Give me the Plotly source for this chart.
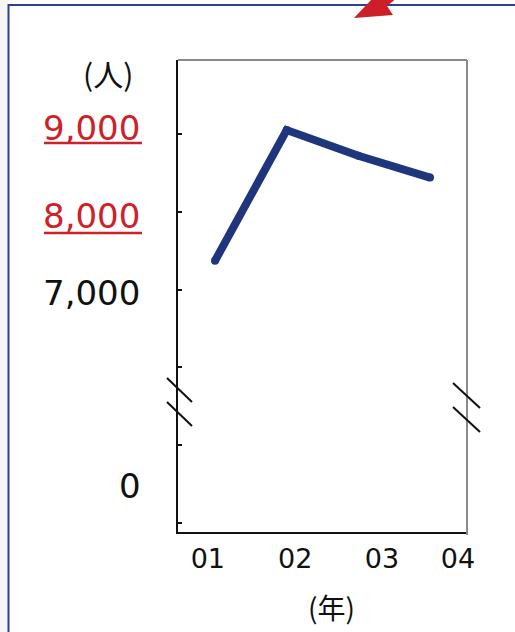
import plotly.graph_objects as go

# Visitors per year (people), drawn on a broken y axis
years = ["01", "02", "03", "04"]
point_x = [1, 2, 3, 4]
visitors = [7370, 9050, 8720, 8440]

# Tick marks on the y axis (values above the break are real, below it the scale is compressed)
tick_vals = [9000, 8000, 7000, 6000, 5000, 4000]
label_texts = ["9,000", "8,000", "7,000"]
label_vals = [9000, 8000, 7000]
label_colors = ["#cc2229", "#cc2229", "#111111"]
label_underlined = [True, True, False]
zero_text = "0"
zero_val = 4480

year_tick_pos = [0.90, 2.12, 3.33, 4.39]

W, H = 515, 632
L, R, T, B = 178, 467, 60, 532


def px(x):
    return (x - L) / (R - L)


def py(y):
    return (B - y) / (B - T)


fig = go.Figure()
fig.add_trace(go.Scatter(
    x=point_x, y=visitors, mode="lines+markers",
    line=dict(color="#1f367c", width=8),
    marker=dict(color="#1f367c", size=8),
    hoverinfo="skip", showlegend=False,
))

shapes = []
# light strip and framing border of the panel
shapes.append(dict(type="rect", xref="paper", yref="paper", x0=px(-5), x1=px(8), y0=py(-5), y1=py(640),
                   line=dict(width=0), fillcolor="#f6f6f6", layer="below"))
shapes.append(dict(type="rect", xref="paper", yref="paper", x0=px(8.5), x1=px(530), y0=py(5), y1=py(650),
                   line=dict(color="#2f3f92", width=2), fillcolor="rgba(0,0,0,0)"))
# grey top and right frame of the plot area
shapes.append(dict(type="line", xref="paper", yref="paper", x0=px(L), x1=px(R), y0=py(60), y1=py(60),
                   line=dict(color="#8a8a8a", width=2)))
shapes.append(dict(type="line", xref="paper", yref="paper", x0=px(R), x1=px(R), y0=py(60), y1=py(535),
                   line=dict(color="#8a8a8a", width=2)))
# axis-break slashes
for (x0, y0, x1, y1) in [(167, 378, 192, 402), (167, 402, 192, 426),
                         (453, 383, 480, 408), (453, 407, 480, 432)]:
    shapes.append(dict(type="line", xref="paper", yref="paper", x0=px(x0), x1=px(x1), y0=py(y0), y1=py(y1),
                       line=dict(color="#111111", width=2)))
# red pointer head at the top edge
arrow_pts = [(354, 18), (393, 15), (387, 6), (397, -2), (373, -2)]
path = "M " + " L ".join(f"{px(a):.4f},{py(b):.4f}" for a, b in arrow_pts) + " Z"
shapes.append(dict(type="path", xref="paper", yref="paper", path=path,
                   line=dict(width=0), fillcolor="#cc1f27"))

annotations = []
label_shift = [6, -4, -3]
underline_y = [143, 233]
for i, (txt, v, c, u) in enumerate(zip(label_texts, label_vals, label_colors, label_underlined)):
    annotations.append(dict(x=px(142), xref="paper", y=v, yref="y", yshift=label_shift[i],
                            text=txt, showarrow=False, xanchor="right", yanchor="middle",
                            font=dict(family="DejaVu Sans", size=34, color=c)))
    if u:
        yy = underline_y[i]
        shapes.append(dict(type="line", xref="paper", yref="paper", x0=px(44), x1=px(142),
                           y0=py(yy), y1=py(yy), line=dict(color=c, width=2.5)))
annotations.append(dict(x=px(143), xref="paper", y=zero_val, yref="y", text=zero_text, showarrow=False,
                        xanchor="right", yanchor="middle",
                        font=dict(family="DejaVu Sans", size=34, color="#111111")))
annotations.append(dict(x=px(108), xref="paper", y=py(73), yref="paper", text="(人)", showarrow=False,
                        xanchor="center", yanchor="middle",
                        font=dict(family="Noto Sans CJK JP", size=30, color="#111111")))
annotations.append(dict(x=px(331), xref="paper", y=py(607), yref="paper", text="(年)", showarrow=False,
                        xanchor="center", yanchor="middle",
                        font=dict(family="Noto Sans CJK JP", size=28, color="#111111")))

fig.update_layout(
    width=W, height=H,
    margin=dict(l=L, r=W - R, t=T, b=H - B, pad=0),
    paper_bgcolor="white", plot_bgcolor="white",
    shapes=shapes, annotations=annotations,
    xaxis=dict(range=[0.4837, 4.516], tickvals=year_tick_pos, ticktext=years,
               showgrid=False, zeroline=False, showline=True, linecolor="#111111", linewidth=2,
               ticks="", ticklabelstandoff=2,
               tickfont=dict(family="DejaVu Sans", size=27, color="#111111")),
    yaxis=dict(range=[3884, 9951], tickvals=tick_vals, showticklabels=False,
               showgrid=False, zeroline=False, showline=True, linecolor="#111111", linewidth=2,
               ticks="inside", ticklen=4, tickwidth=2, tickcolor="#111111"),
)

fig.write_html("out.html")
